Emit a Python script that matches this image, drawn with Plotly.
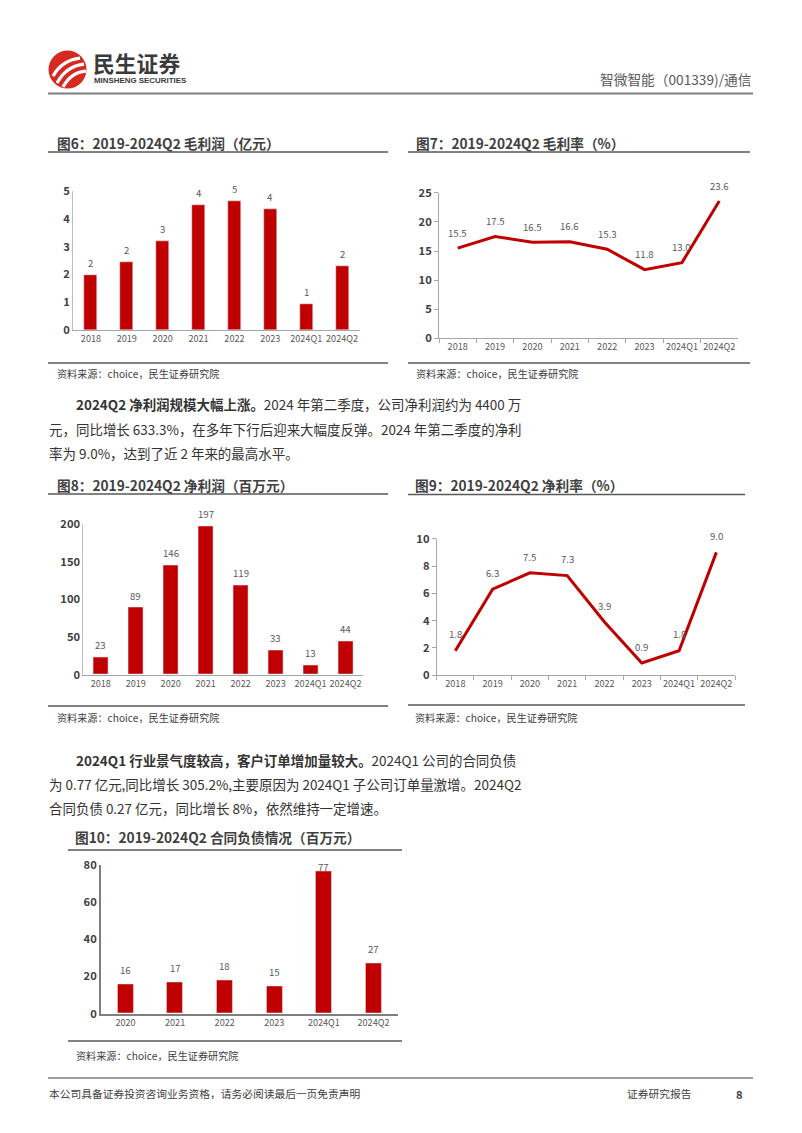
import plotly.graph_objects as go

W, H = 802, 1133
# Vertical capture is offset by the 8px body margin and scaled back to 1133px;
# target page pixels are mapped into figure coordinates here.
S = (H + 16) / H
F = S  # font / offset scale
RED = "#C00000"
FONT = "Noto Sans CJK SC"
GRAY = "#595959"
DARK = "#404040"


def px(x):
    return x / W


def py(y):
    return 1 - (y * S - 8) / H


# ---------------- data ----------------
cats = ["2018", "2019", "2020", "2021", "2022", "2023", "2024Q1", "2024Q2"]
gross_profit = [1.98, 2.46, 3.19, 4.48, 4.65, 4.34, 0.92, 2.30]      # 亿元
gross_margin = [15.5, 17.5, 16.5, 16.6, 15.3, 11.8, 13.0, 23.6]       # %
net_profit = [23, 89, 146, 197, 119, 33, 13, 44]                      # 百万元
net_margin = [1.8, 6.3, 7.5, 7.3, 3.9, 0.9, 1.8, 9.0]                 # %
cats10 = ["2020", "2021", "2022", "2023", "2024Q1", "2024Q2"]
contract_liab = [16, 17, 18, 15, 77, 27]                              # 百万元

fig = go.Figure()

fig.add_trace(go.Bar(x=cats, y=gross_profit, marker_color=RED, width=0.36,
                     xaxis="x", yaxis="y"))
fig.add_trace(go.Scatter(x=cats, y=gross_margin, mode="lines",
                         line=dict(color=RED, width=3), xaxis="x2", yaxis="y2"))
fig.add_trace(go.Bar(x=cats, y=net_profit, marker_color=RED, width=0.43,
                     xaxis="x3", yaxis="y3"))
fig.add_trace(go.Scatter(x=cats, y=net_margin, mode="lines",
                         line=dict(color=RED, width=3), xaxis="x4", yaxis="y4"))
fig.add_trace(go.Bar(x=cats10, y=contract_liab, marker_color=RED, width=0.32,
                     xaxis="x5", yaxis="y5"))

annotations = []


def data_labels(ys, xr, yr, fmt, shift, top=None):
    for i, v in enumerate(ys):
        yv = v
        ys_ = shift * S
        if top is not None and v >= top * 0.9:
            yv = top * 0.985
            ys_ = 0
        annotations.append(dict(x=i, y=yv, xref=xr, yref=yr, text=fmt.format(v),
                                showarrow=False, yshift=ys_, yanchor="middle",
                                font=dict(family=FONT, size=9.5 * F, color=GRAY)))


data_labels(gross_profit, "x", "y", "{:.0f}", 12)
data_labels(gross_margin, "x2", "y2", "{:.1f}", 15)
data_labels(net_profit, "x3", "y3", "{:.0f}", 12)
data_labels(net_margin, "x4", "y4", "{:.1f}", 16)
data_labels(contract_liab, "x5", "y5", "{:.0f}", 14, top=80)


def xax(domain, anchor, ticks=False, linecolor="#A6A6A6", lw=1, n=8):
    d = dict(domain=domain, anchor=anchor, type="category", range=[-0.5, n - 0.5],
             showline=True, linecolor=linecolor, linewidth=lw, showgrid=False,
             zeroline=False, fixedrange=True, tickangle=0,
             tickfont=dict(family=FONT, size=9 * F, color=GRAY))
    if ticks:
        d.update(ticks="outside", tickson="boundaries", ticklen=4, tickcolor=linecolor)
    else:
        d.update(ticks="")
    return d


def yax(domain, anchor, rng, dtick, ticks=False, linecolor="#BFBFBF", lw=1):
    d = dict(domain=domain, anchor=anchor, range=rng, dtick=dtick, showline=True,
             linecolor=linecolor, linewidth=lw, showgrid=False, zeroline=False,
             fixedrange=True,
             tickfont=dict(family=FONT, size=11 * F, color=DARK, weight="bold"))
    if ticks:
        d.update(ticks="outside", ticklen=4, tickcolor=linecolor)
    else:
        d.update(ticks="")
    return d


fig.update_layout(
    xaxis=xax([px(73), px(360)], "y"),
    yaxis=yax([py(329), py(190)], "x", [0, 5], 1),
    xaxis2=xax([px(439), px(738)], "y2", ticks=True),
    yaxis2=yax([py(337.3), py(191.7)], "x2", [0, 25], 5, ticks=True, linecolor="#A6A6A6"),
    xaxis3=xax([px(83.3), px(363)], "y3"),
    yaxis3=yax([py(673.7), py(523.3)], "x3", [0, 200], 50),
    xaxis4=xax([px(436.7), px(735)], "y4", ticks=True),
    yaxis4=yax([py(674.3), py(537.7)], "x4", [0, 10], 2, ticks=True, linecolor="#A6A6A6"),
    xaxis5=xax([px(100.7), px(398.3)], "y5", linecolor="#7F7F7F", lw=1.5, n=6),
    yaxis5=yax([py(1012.7), py(864.3)], "x5", [0, 80], 20, linecolor="#7F7F7F", lw=1.5),
)

shapes = []


def hline(x0, x1, y, color="#595959", width=1.5):
    shapes.append(dict(type="line", xref="paper", yref="paper", x0=px(x0), x1=px(x1),
                       y0=py(y), y1=py(y), line=dict(color=color, width=width)))


def text(x, y, s, size, color="#333333", bold=False, anchor="left", family=FONT):
    annotations.append(dict(x=px(x), y=py(y), xref="paper", yref="paper", text=s,
                            showarrow=False, xanchor=anchor, yanchor="middle",
                            font=dict(family=family, size=size * F, color=color,
                                      weight="bold" if bold else "normal")))


# header logo
shapes.append(dict(type="circle", xref="paper", yref="paper", x0=px(48.5), x1=px(86.5),
                   y0=py(87.5), y1=py(49.5), fillcolor="#D42A22", line=dict(width=0)))


def path_px(pts):
    (a, b), (c, d), (e, f) = pts
    return "M {},{} Q {},{} {},{}".format(px(a), py(b), px(c), py(d), px(e), py(f))


for pts in [[(53, 75), (62, 59), (80, 57)],
            [(57, 82), (66, 65), (84, 63)],
            [(63, 86), (71, 71), (86, 70)]]:
    shapes.append(dict(type="path", xref="paper", yref="paper", path=path_px(pts),
                       line=dict(color="white", width=3.2)))

text(91, 61.5, "民生证券", 21.5, color="#3A3A3A", bold=True)
text(92, 79.5, "MINSHENG SECURITIES", 7.8, color="#3A3A3A", bold=True, family="Liberation Sans")
text(753, 77.5, "智微智能（001339)/通信", 13.5, color=GRAY, anchor="right")
hline(48, 753, 92.5, color="#7F7F7F", width=2)

# chart titles and rules
text(55, 141.5, "图6：2019-2024Q2 毛利润（亿元）", 13.5, color=DARK, bold=True)
text(414, 141.5, "图7：2019-2024Q2 毛利率（%）", 13.5, color=DARK, bold=True)
hline(48, 388, 151)
hline(408, 750, 151)
hline(48, 388, 362)
hline(408, 750, 362)
text(55, 372, "资料来源：choice，民生证券研究院", 10, color=DARK)
text(414, 372, "资料来源：choice，民生证券研究院", 10, color=DARK)

text(55, 484, "图8：2019-2024Q2 净利润（百万元）", 13.5, color=DARK, bold=True)
text(413, 484, "图9：2019-2024Q2 净利率（%）", 13.5, color=DARK, bold=True)
hline(48, 388, 493)
hline(408, 745, 493.5)
hline(48, 388, 705)
hline(408, 745, 704)
text(55, 717, "资料来源：choice，民生证券研究院", 10, color=DARK)
text(413, 717, "资料来源：choice，民生证券研究院", 10, color=DARK)

text(73, 836.5, "图10：2019-2024Q2 合同负债情况（百万元）", 13.5, color=DARK, bold=True)
hline(68, 402, 849)
hline(68, 402, 1040)
text(74, 1055, "资料来源：choice，民生证券研究院", 10, color=DARK)

# body paragraphs
BODY = 13.3
text(74, 403, "<b>2024Q2 净利润规模大幅上涨。</b>2024 年第二季度，公司净利润约为 4400 万", BODY)
text(47, 428, "元，同比增长 633.3%，在多年下行后迎来大幅度反弹。2024 年第二季度的净利", BODY)
text(47, 452, "率为 9.0%，达到了近 2 年来的最高水平。", BODY)

text(74, 759, "<b>2024Q1 行业景气度较高，客户订单增加量较大。</b>2024Q1 公司的合同负债", BODY)
text(47, 783, "为 0.77 亿元,同比增长 305.2%,主要原因为 2024Q1 子公司订单量激增。2024Q2", BODY)
text(47, 807, "合同负债 0.27 亿元，同比增长 8%，依然维持一定增速。", BODY)

# footer
hline(48, 753, 1077, color="#7F7F7F", width=1.5)
text(47, 1093, "本公司具备证券投资咨询业务资格，请务必阅读最后一页免责声明", 10.6, color=DARK)
text(625, 1093, "证券研究报告", 10.6, color=DARK)
text(745, 1093, "8", 11, color=DARK, bold=True, anchor="right")

fig.update_layout(
    width=W, height=H, autosize=False,
    margin=dict(l=0, r=0, t=0, b=0),
    paper_bgcolor="white", plot_bgcolor="white",
    showlegend=False, bargap=0,
    shapes=shapes, annotations=annotations,
    font=dict(family=FONT),
)

fig.write_html("out.html")
